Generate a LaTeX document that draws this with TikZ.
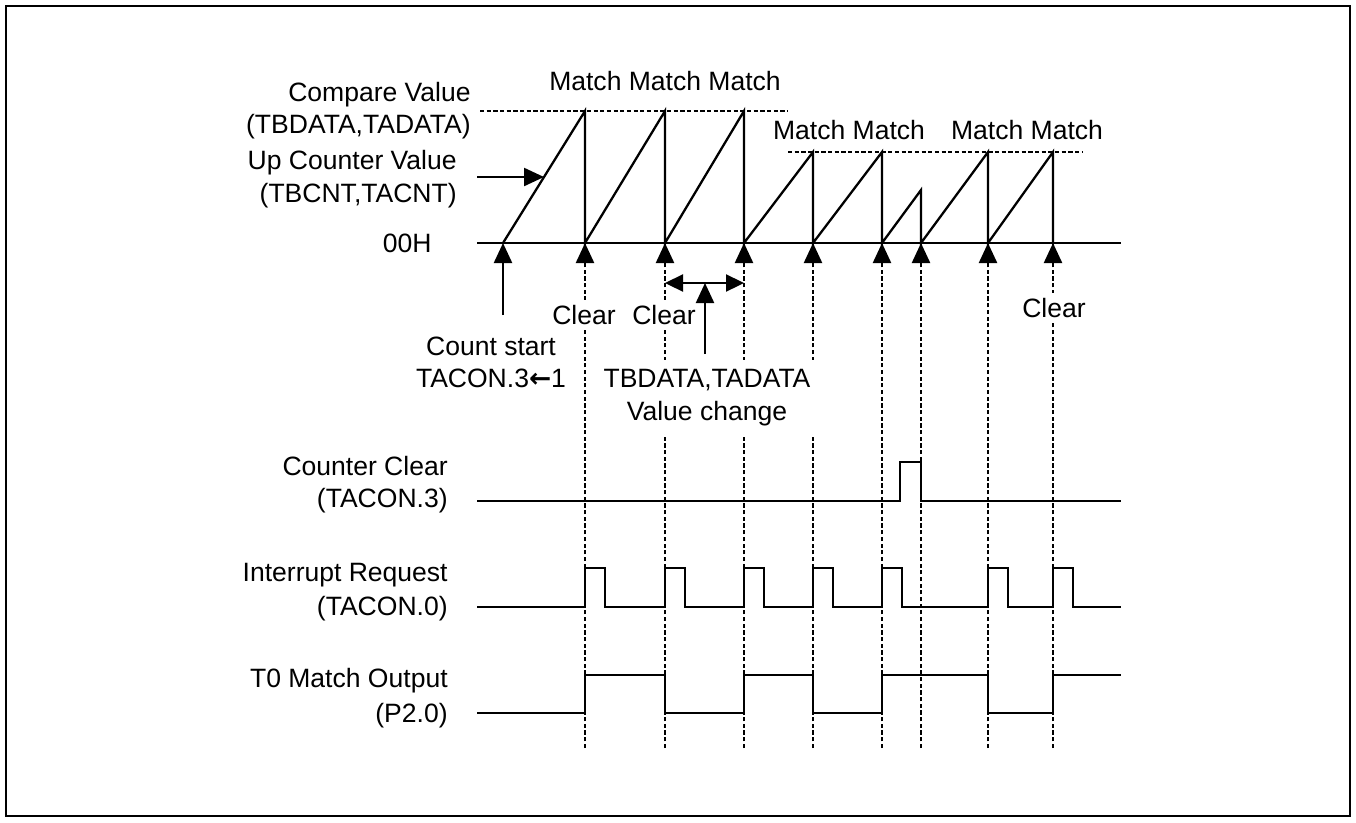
\documentclass[tikz,border=0pt]{standalone}
\usepackage{fontspec}
\setmainfont{Liberation Sans}
\newfontfamily\arrowfont{DejaVu Sans}
\usetikzlibrary{arrows.meta}
\tikzset{
  lbl/.style={font=\fontsize{15.1}{18.7}\selectfont, inner sep=0pt},
  gaplbl/.style={lbl, fill=white, inner xsep=2pt, inner ysep=2.5pt},
  sig/.style={line width=1.3pt, line join=miter},
  guide/.style={line width=1.4pt, dash pattern=on 2.4pt off 1.4pt},
  tick/.style={-{Triangle[length=4mm,width=3.6mm]}, line width=1.3pt},
  span/.style={{Triangle[length=3.6mm,width=3.4mm]}-{Triangle[length=3.6mm,width=3.4mm]}, line width=1.3pt},
}

\begin{document}
\begin{tikzpicture}[x=0.02cm, y=-0.02cm]
\useasboundingbox (0,0) rectangle (1356,822);
\draw[line width=1.2pt] (6,6) rectangle (1350,816);

% left labels, counter part
\node[lbl, anchor=base east] (cmp)    at (471,101) {Compare Value};
\node[lbl, anchor=base east] (cmpreg) at (471,133) {(TBDATA,TADATA)};
\node[lbl, anchor=base east] (cnt)    at (457,169) {Up Counter Value};
\node[lbl, anchor=base east] (cntreg) at (457,202) {(TBCNT,TACNT)};
\node[lbl, anchor=base east] (zero)   at (432,252) {00H};

% match labels
\node[lbl, anchor=base] (matchA) at (665,90)   {Match Match Match};
\node[lbl, anchor=base] (matchB) at (849,139)  {Match Match};
\node[lbl, anchor=base] (matchC) at (1027,139) {Match Match};

% compare levels
\draw[guide] (480,111) -- (788,111);
\draw[guide] (788,152) -- (1083,152);

% 00H axis and counter sawtooth
\coordinate (axisL) at (477,243);
\coordinate (axisR) at (1121,243);
\draw[sig] (axisL) -- (axisR);
\draw[sig] (503,243) -- (585,111) -- (585,243) -- (665,111) -- (665,243)
  -- (744,111) -- (744,243) -- (813,152) -- (813,243) -- (882,152) -- (882,243)
  -- (921,190) -- (921,243) -- (988,152) -- (988,243) -- (1053,152) -- (1053,243);

% pointer to the counter ramp
\coordinate (cntptr) at (477,177);
\coordinate (ramp) at (544,177);
\draw[tick] (cntptr) -- (ramp);

% event guides
\foreach \n/\x in {ea/585, eb/665, ec/744, ed/813, ee/882, ef/921, eg/988, eh/1053} {
  \coordinate (\n top) at (\x,243);
  \coordinate (\n bot) at (\x,748);
  \draw[guide] (\n bot) -- (\n top);
  \draw[tick] (\x,262) -- (\n top);
}

% count start
\coordinate (start) at (503,243);
\coordinate (startbot) at (503,315);
\draw[tick] (startbot) -- (start);
\node[lbl, anchor=base] (cstart) at (491,355) {Count start};
\node[lbl, anchor=base] (cset)   at (491,387) {TACON.3{\arrowfont\bfseries ←}1};

% clear labels
\node[gaplbl, anchor=base] (clrA) at (584,324)  {Clear};
\node[gaplbl, anchor=base] (clrB) at (664,324)  {Clear};
\node[gaplbl, anchor=base] (clrC) at (1054,317) {Clear};

% value change window
\coordinate (winL) at (665,283);
\coordinate (winR) at (744,283);
\coordinate (winM) at (705,283);
\draw[span] (winL) -- (winR);
\node[gaplbl, anchor=base, minimum width=4.5cm, inner ysep=5pt] (chg)  at (707,387) {TBDATA,TADATA};
\node[gaplbl, anchor=base, minimum width=4.5cm, inner ysep=5pt] (chgB) at (707,420) {Value change};
\coordinate (chgtop) at (705,354);
\draw[tick] (chgtop) -- (winM);

% left labels, signals
\node[lbl, anchor=base east] (clr)    at (448,475) {Counter Clear};
\node[lbl, anchor=base east] (clrreg) at (448,507) {(TACON.3)};
\node[lbl, anchor=base east] (irq)    at (448,581) {Interrupt Request};
\node[lbl, anchor=base east] (irqreg) at (448,615) {(TACON.0)};
\node[lbl, anchor=base east] (out)    at (448,687) {T0 Match Output};
\node[lbl, anchor=base east] (outpin) at (448,722) {(P2.0)};

% counter clear
\draw[sig] (477,501) -- (900,501) -- (900,462) -- (921,462) -- (921,501) -- (1121,501);

% interrupt request
\draw[sig] (477,607) foreach \m in {585,665,744,813,882,988,1053} {
  -- (\m,607) -- (\m,568) -- (\m+20,568) -- (\m+20,607) } -- (1121,607);

% match output
\draw[sig] (477,713) -| (585,675) -| (665,713) -| (744,675) -| (813,713)
  -| (882,675) -| (988,713) -| (1053,675) -- (1121,675);

\end{tikzpicture}
\end{document}
